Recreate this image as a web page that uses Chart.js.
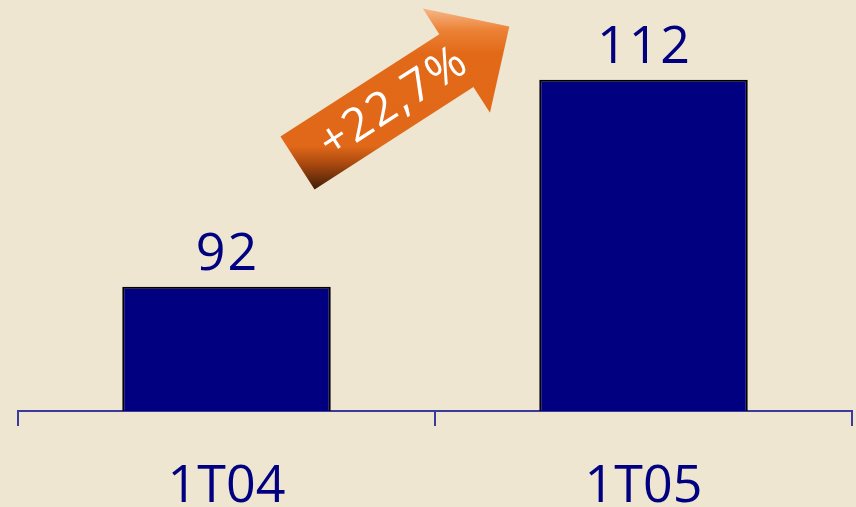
<!DOCTYPE html>
<html><head><meta charset="utf-8">
<script src="https://cdn.jsdelivr.net/npm/chart.js@4/dist/chart.umd.min.js"></script>
<style>html,body{margin:0;padding:0;background:#EFE6D1;overflow:hidden}#wrap{width:856px;height:507px;position:relative}</style>
</head><body><div id="wrap"><canvas id="c"></canvas></div>
<script>
const categories = ['1T04', '1T05'];
const values = [92, 112];
const growthLabel = '+22,7%';
const yRange = [80, 119.7];

const NAVY = '#000080';
const AXIS = '#3B3B9B';
const FONT = "'Open Sans', 'Liberation Sans', sans-serif";

const valueLabels = {
  id: 'valueLabels',
  afterDatasetsDraw(chart) {
    const ctx = chart.ctx;
    const meta = chart.getDatasetMeta(0);
    ctx.save();
    ctx.fillStyle = NAVY;
    ctx.font = '52px ' + FONT;
    ctx.textAlign = 'center';
    ctx.textBaseline = 'alphabetic';
    ctx.letterSpacing = '2px';
    meta.data.forEach((bar, i) => {
      ctx.fillText(String(values[i]), bar.x + 1, bar.y - 17);
    });
    ctx.restore();
  }
};

const growthArrow = {
  id: 'growthArrow',
  afterDraw(chart) {
    const ctx = chart.ctx;
    const ang = -32.8 * Math.PI / 180;
    const cx = 297.5, cy = 163; // tail centre
    const c = Math.cos(ang), s = Math.sin(ang);
    const P = (u, v) => [cx + u * c - v * s, cy + u * s + v * c];
    const shaftLen = 189, half = 31.5, headHalf = 62, headLen = 63;
    const pts = [P(0, -half), P(shaftLen, -half), P(shaftLen, -headHalf), P(shaftLen + headLen, 0),
                 P(shaftLen, headHalf), P(shaftLen, half), P(0, half)];
    ctx.save();
    ctx.beginPath();
    pts.forEach((p, i) => i ? ctx.lineTo(p[0], p[1]) : ctx.moveTo(p[0], p[1]));
    ctx.closePath();
    const g = ctx.createLinearGradient(0, 8, 0, 190);
    g.addColorStop(0, '#F7B98C');
    g.addColorStop(0.12, '#EC8236');
    g.addColorStop(0.25, '#E16918');
    g.addColorStop(0.76, '#E06818');
    g.addColorStop(0.86, '#A8480F');
    g.addColorStop(1, '#3E1C06');
    ctx.fillStyle = g;
    ctx.fill();
    // text
    const t = P(114, 0);
    ctx.translate(t[0], t[1]);
    ctx.rotate(ang);
    ctx.fillStyle = '#FFFFFF';
    ctx.font = '400 46px ' + FONT;
    ctx.letterSpacing = '2px';
    ctx.textAlign = 'center';
    ctx.textBaseline = 'middle';
    ctx.fillText(growthLabel, 0, 2);
    ctx.restore();
  }
};

new Chart(document.getElementById('c'), {
  type: 'bar',
  data: {
    labels: categories,
    datasets: [{
      data: values,
      backgroundColor: NAVY,
      borderColor: '#000000',
      borderWidth: 2,
      barPercentage: 0.5,
      categoryPercentage: 1
    }]
  },
  options: {
    responsive: true,
    maintainAspectRatio: false,
    animation: false,
    devicePixelRatio: 1,
    layout: { padding: { left: 18, right: 4, top: 0, bottom: 0 } },
    plugins: { legend: { display: false }, tooltip: { enabled: false } },
    scales: {
      x: {
        grid: { display: true, drawOnChartArea: false, drawTicks: true, tickLength: 15, color: AXIS, lineWidth: 2, offset: true },
        border: { display: true, color: AXIS, width: 2 },
        ticks: { color: NAVY, font: { family: FONT, size: 52 }, padding: 30 },
        afterFit: (s) => { s.height = 96; }
      },
      y: { display: false, min: yRange[0], max: yRange[1] }
    }
  },
  plugins: [valueLabels, growthArrow]
});
</script>
</body></html>
